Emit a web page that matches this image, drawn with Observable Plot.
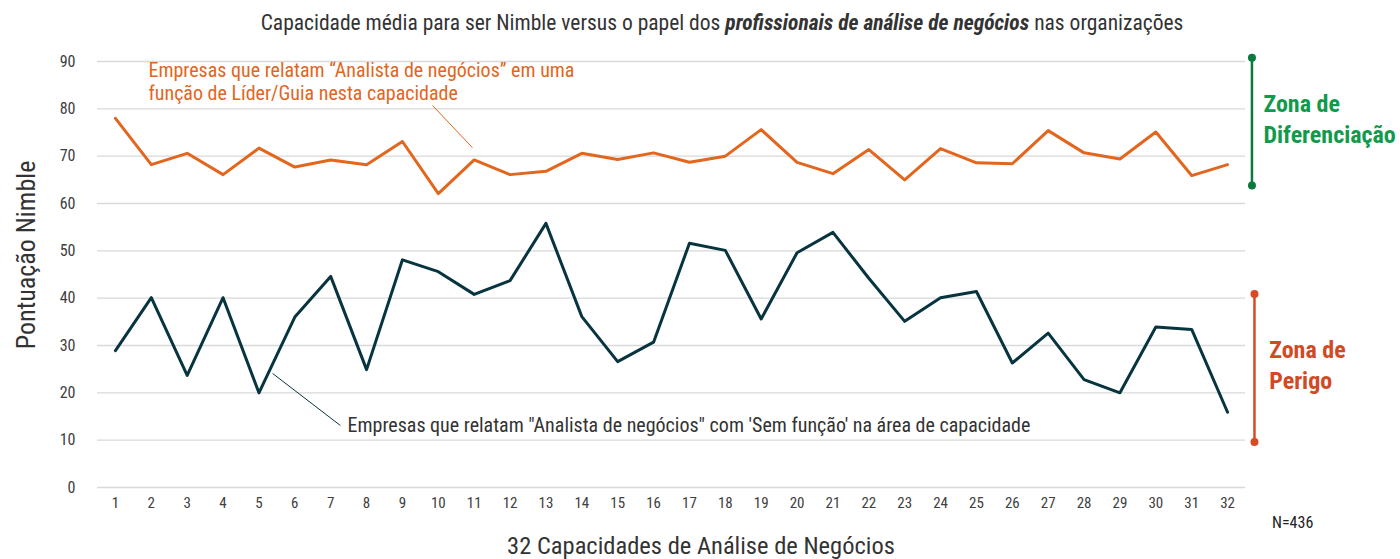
<!DOCTYPE html>
<html><head><meta charset="utf-8">
<script src="https://cdn.jsdelivr.net/npm/d3@7"></script>
<script src="https://cdn.jsdelivr.net/npm/@observablehq/plot@0.6"></script>
<style>
body{margin:0;background:#fff;font-family:"Roboto Condensed","Liberation Sans Narrow",Roboto,sans-serif;}
#wrap{position:relative;width:1400px;height:559px;overflow:hidden;}
.ov{position:absolute;white-space:nowrap;color:#333;line-height:1.15;}
</style></head>
<body><div id="wrap">
<div class="ov" id="sub" style="left:0;width:1444px;text-align:center;top:11px;font-size:21.5px;">Capacidade média para ser Nimble versus o papel dos <b><i>profissionais de análise de negócios</i></b> nas organizações</div>
<div class="ov" style="left:0;width:1402px;text-align:center;top:532px;font-size:24.5px;">32 Capacidades de Análise de Negócios</div>
<div class="ov" style="left:1272px;top:514px;font-size:16px;color:#222;">N=436</div>
<div class="ov" style="left:27px;top:255px;font-size:26px;transform:translate(-50%,-50%) rotate(-90deg);">Pontuação Nimble</div>
</div>
<script>
const capacities = d3.range(1, 33);
const leaderScores = [78, 68.2, 70.6, 66.1, 71.7, 67.7, 69.2, 68.2, 73.1, 62.1, 69.2, 66.1, 66.8, 70.6, 69.3, 70.7, 68.7, 70.0, 75.6, 68.7, 66.3, 71.4, 65.0, 71.6, 68.6, 68.4, 75.4, 70.7, 69.4, 75.1, 65.9, 68.2];
const noRoleScores = [28.9, 40.1, 23.7, 40.1, 20.0, 36.0, 44.6, 24.9, 48.1, 45.6, 40.8, 43.7, 55.8, 36.1, 26.6, 30.7, 51.6, 50.1, 35.6, 49.6, 53.9, 44.2, 35.1, 40.1, 41.4, 26.3, 32.6, 22.8, 20.0, 33.9, 33.4, 15.9];
const yTicks = [0, 10, 20, 30, 40, 50, 60, 70, 80, 90];
const zoneNames = ["Zona de\nDiferenciação", "Zona de\nPerigo"];
const zoneLow = [63.8, 9.6];
const zoneHigh = [90.8, 40.9];
const zoneColors = ["#0b7a3e", "#d64a26"];
const zoneTextColors = ["#119a4b", "#d24a24"];
const leaderLabel = "Empresas que relatam “Analista de negócios” em uma\nfunção de Líder/Guia nesta capacidade";
const noRoleLabel = "Empresas que relatam \"Analista de negócios\" com 'Sem função' na área de capacidade";

const leaderData = capacities.map((c, i) => ({c, v: leaderScores[i]}));
const noRoleData = capacities.map((c, i) => ({c, v: noRoleScores[i]}));
const zones = zoneNames.map((n, i) => ({n, lo: zoneLow[i], hi: zoneHigh[i], col: zoneColors[i], tc: zoneTextColors[i], x: i === 0 ? 32.68 : 32.75, tx: i === 0 ? 33.0 : 33.16, ty: i === 0 ? 78.2 : 26.2}));
const zoneEnds = zones.flatMap(z => [{x: z.x, v: z.lo, col: z.col}, {x: z.x, v: z.hi, col: z.col}]);

const ORANGE = "#e2661e", DARK = "#07343f";

const chart = Plot.plot({
  width: 1400, height: 559,
  marginLeft: 97, marginRight: 155, marginTop: 61, marginBottom: 72,
  style: {fontFamily: '"Roboto Condensed","Liberation Sans Narrow",Roboto,sans-serif', color: "#404040", background: "transparent"},
  x: {domain: [0.5, 32.5], label: null},
  y: {domain: [0, 90], label: null},
  marks: [
    Plot.gridY(yTicks, {stroke: "#d9d9d9", strokeOpacity: 1, strokeWidth: 1.3}),
    Plot.axisX(capacities, {fontSize: 15, tickSize: 0, tickPadding: 10, tickFormat: d => d, label: null}),
    Plot.axisY(yTicks, {fontSize: 16, tickSize: 0, tickPadding: 22, label: null}),
    Plot.line(leaderData, {x: "c", y: "v", stroke: ORANGE, strokeWidth: 3}),
    Plot.line(noRoleData, {x: "c", y: "v", stroke: DARK, strokeWidth: 3}),
    Plot.link([{x1: 9.84, y1: 80.7, x2: 10.95, y2: 71.8}], {x1: "x1", y1: "y1", x2: "x2", y2: "y2", stroke: ORANGE, strokeWidth: 1}),
    Plot.link([{x1: 5.38, y1: 24.1, x2: 7.27, y2: 13.1}], {x1: "x1", y1: "y1", x2: "x2", y2: "y2", stroke: DARK, strokeWidth: 1}),
    Plot.text([leaderLabel], {x: 1.92, y: 85.9, text: d => d, textAnchor: "start", lineAnchor: "middle", lineHeight: 1.15, fill: ORANGE, fontSize: 20}),
    Plot.text([noRoleLabel], {x: 7.47, y: 13.1, text: d => d, textAnchor: "start", lineAnchor: "middle", fill: "#333", fontSize: 20}),
    Plot.ruleX(zones, {x: "x", y1: "lo", y2: "hi", stroke: "col", strokeWidth: 2.5}),
    Plot.dot(zoneEnds, {x: "x", y: "v", fill: "col", r: 4}),
    Plot.text(zones, {x: "tx", y: "ty", text: "n", fill: "tc", textAnchor: "start", lineAnchor: "middle", lineHeight: 1.3, fontSize: 24, fontWeight: "bold"})
  ]
});
chart.style.position = "absolute";
chart.style.left = "0px";
chart.style.top = "0px";
document.getElementById("wrap").prepend(chart);
</script>
</body></html>
